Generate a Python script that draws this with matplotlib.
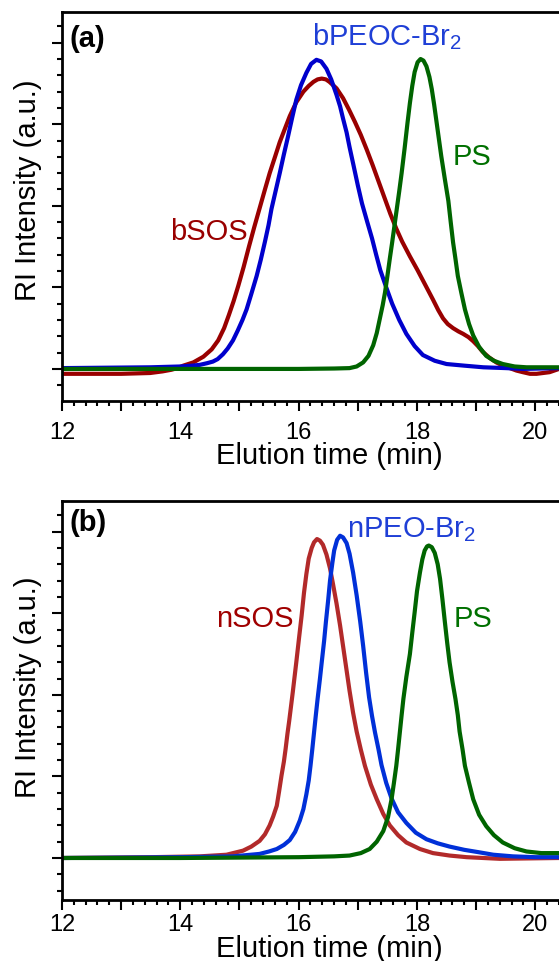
import matplotlib
matplotlib.use("Agg")
import matplotlib.pyplot as plt
from matplotlib.ticker import FixedLocator, MultipleLocator, FuncFormatter

plt.rcParams["font.family"] = ["Liberation Sans", "DejaVu Sans"]
plt.rcParams["mathtext.fontset"] = "custom"
plt.rcParams["mathtext.rm"] = "Liberation Sans"
plt.rcParams["mathtext.it"] = "Liberation Sans:italic"

# (a) bottlebrush series
a_peo_t = [12.0, 13.5, 14.0, 14.2, 14.33, 14.45, 14.55, 14.63, 14.72, 14.80, 14.89, 14.97,
           15.05, 15.12, 15.20, 15.29, 15.36, 15.43, 15.49, 15.54, 15.61, 15.68, 15.75, 15.82,
           15.89, 15.96, 16.04, 16.13, 16.21, 16.30, 16.38, 16.47, 16.55, 16.64, 16.70, 16.75,
           16.81, 16.86, 16.92, 17.00, 17.07, 17.16, 17.24, 17.31, 17.38, 17.48, 17.58, 17.70,
           17.82, 17.96, 18.10, 18.30, 18.50, 18.80, 19.12, 19.50, 19.79, 20.40]
a_peo_ri = [0.01, 0.02, 0.03, 0.04, 0.05, 0.07, 0.09, 0.12, 0.18, 0.25, 0.35, 0.47,
            0.60, 0.73, 0.92, 1.14, 1.34, 1.56, 1.76, 1.96, 2.18, 2.40, 2.63, 2.85,
            3.08, 3.30, 3.48, 3.63, 3.74, 3.79, 3.77, 3.68, 3.55, 3.36, 3.22, 3.07,
            2.90, 2.72, 2.52, 2.25, 2.03, 1.80, 1.60, 1.40, 1.21, 1.00, 0.80, 0.60,
            0.43, 0.28, 0.17, 0.10, 0.06, 0.04, 0.02, 0.01, 0.00, 0.01]

a_sos_t = [12.0, 13.0, 13.49, 13.7, 13.85, 13.95, 14.05, 14.22, 14.39, 14.53, 14.64, 14.74,
           14.82, 14.90, 14.98, 15.07, 15.16, 15.25, 15.34, 15.43, 15.51, 15.60, 15.68, 15.77,
           15.85, 15.96, 16.08, 16.17, 16.25, 16.32, 16.39, 16.46, 16.52, 16.58, 16.64, 16.75,
           16.85, 16.95, 17.05, 17.15, 17.25, 17.35, 17.45, 17.55, 17.65, 17.75, 17.88, 18.01,
           18.14, 18.27, 18.36, 18.44, 18.52, 18.61, 18.70, 18.78, 18.87, 18.95, 19.03, 19.11,
           19.22, 19.34, 19.45, 19.57, 19.68, 19.79, 19.91, 20.02, 20.13, 20.24, 20.40]
a_sos_ri = [-0.06, -0.06, -0.05, -0.03, -0.01, 0.01, 0.04, 0.08, 0.15, 0.24, 0.35, 0.50,
            0.66, 0.83, 1.02, 1.25, 1.50, 1.74, 1.97, 2.20, 2.40, 2.60, 2.78, 2.95,
            3.10, 3.27, 3.40, 3.47, 3.52, 3.55, 3.56, 3.55, 3.52, 3.48, 3.44, 3.32,
            3.18, 3.03, 2.87, 2.69, 2.50, 2.30, 2.10, 1.90, 1.72, 1.56, 1.38, 1.21,
            1.03, 0.85, 0.72, 0.62, 0.55, 0.50, 0.46, 0.43, 0.39, 0.34, 0.28, 0.21,
            0.14, 0.08, 0.04, 0.01, -0.02, -0.04, -0.06, -0.06, -0.05, -0.04, 0.00]

a_ps_t = [12.0, 16.0, 16.60, 16.86, 16.98, 17.09, 17.18, 17.26, 17.32, 17.37, 17.42, 17.46,
          17.50, 17.54, 17.58, 17.62, 17.66, 17.70, 17.74, 17.79, 17.84, 17.88, 17.92, 17.96,
          18.01, 18.06, 18.11, 18.16, 18.21, 18.25, 18.29, 18.33, 18.37, 18.41, 18.47, 18.53,
          18.57, 18.61, 18.65, 18.69, 18.75, 18.81, 18.88, 18.95, 19.05, 19.17, 19.30, 19.45,
          19.65, 19.85, 20.40]
a_ps_ri = [0.00, 0.00, 0.005, 0.01, 0.03, 0.08, 0.16, 0.29, 0.44, 0.61, 0.78, 0.94,
           1.14, 1.35, 1.55, 1.76, 1.97, 2.18, 2.40, 2.70, 3.02, 3.26, 3.47, 3.64,
           3.76, 3.80, 3.78, 3.71, 3.58, 3.43, 3.24, 3.03, 2.82, 2.61, 2.33, 2.06,
           1.80, 1.55, 1.35, 1.14, 0.93, 0.73, 0.55, 0.41, 0.27, 0.16, 0.10, 0.06,
           0.03, 0.02, 0.02]

# (b) linear series
b_sos_t = [12.0, 13.5, 14.33, 14.78, 15.06, 15.20, 15.34, 15.43, 15.51, 15.57, 15.63, 15.67,
           15.71, 15.75, 15.78, 15.81, 15.84, 15.90, 15.96, 16.01, 16.05, 16.09, 16.13, 16.17,
           16.22, 16.26, 16.31, 16.36, 16.41, 16.47, 16.53, 16.58, 16.64, 16.70, 16.75, 16.80,
           16.86, 16.92, 16.98, 17.05, 17.12, 17.22, 17.32, 17.43, 17.54, 17.68, 17.82, 18.05,
           18.27, 18.55, 18.84, 19.40, 20.40]
b_sos_ri = [0.00, 0.01, 0.02, 0.04, 0.09, 0.14, 0.21, 0.29, 0.40, 0.51, 0.64, 0.82,
            1.01, 1.18, 1.34, 1.52, 1.68, 2.03, 2.40, 2.72, 2.97, 3.25, 3.48, 3.67,
            3.80, 3.87, 3.91, 3.89, 3.84, 3.72, 3.55, 3.36, 3.12, 2.85, 2.60, 2.35,
            2.05, 1.78, 1.55, 1.33, 1.13, 0.90, 0.72, 0.54, 0.40, 0.28, 0.19, 0.11,
            0.06, 0.03, 0.01, -0.01, 0.00]

b_peo_t = [12.0, 14.05, 14.89, 15.34, 15.50, 15.63, 15.75, 15.85, 15.94, 16.02, 16.08, 16.13,
           16.17, 16.20, 16.23, 16.26, 16.29, 16.32, 16.36, 16.39, 16.43, 16.46, 16.50, 16.53,
           16.57, 16.60, 16.65, 16.70, 16.75, 16.81, 16.86, 16.92, 16.98, 17.04, 17.09, 17.14,
           17.19, 17.24, 17.29, 17.35, 17.40, 17.48, 17.57, 17.68, 17.82, 17.98, 18.16, 18.35,
           18.55, 18.80, 19.05, 19.29, 19.62, 20.00, 20.40]
b_peo_ri = [0.00, 0.01, 0.02, 0.05, 0.08, 0.11, 0.16, 0.22, 0.32, 0.46, 0.60, 0.78,
            0.95, 1.13, 1.33, 1.54, 1.75, 1.95, 2.20, 2.40, 2.66, 2.89, 3.17, 3.40,
            3.62, 3.77, 3.90, 3.95, 3.93, 3.86, 3.73, 3.50, 3.22, 2.90, 2.60, 2.27,
            1.97, 1.74, 1.54, 1.33, 1.14, 0.92, 0.73, 0.56, 0.43, 0.31, 0.23, 0.18,
            0.14, 0.10, 0.07, 0.04, 0.02, 0.01, 0.01]

b_ps_t = [12.0, 14.0, 16.0, 16.60, 16.86, 17.05, 17.20, 17.32, 17.43, 17.51, 17.57, 17.61,
          17.65, 17.68, 17.71, 17.74, 17.77, 17.82, 17.88, 17.92, 17.96, 18.00, 18.05, 18.09,
          18.13, 18.17, 18.20, 18.25, 18.30, 18.35, 18.39, 18.43, 18.47, 18.51, 18.55, 18.60,
          18.65, 18.69, 18.72, 18.77, 18.81, 18.88, 18.95, 19.05, 19.17, 19.30, 19.45, 19.65,
          19.85, 20.10, 20.40]
b_ps_ri = [0.00, 0.00, 0.01, 0.02, 0.03, 0.06, 0.11, 0.20, 0.33, 0.50, 0.72, 0.92,
           1.13, 1.33, 1.54, 1.75, 1.95, 2.22, 2.50, 2.76, 3.01, 3.27, 3.50, 3.66,
           3.77, 3.82, 3.83, 3.81, 3.74, 3.60, 3.42, 3.17, 2.90, 2.64, 2.40, 2.16,
           1.95, 1.75, 1.55, 1.33, 1.13, 0.92, 0.72, 0.53, 0.39, 0.28, 0.19, 0.12,
           0.08, 0.06, 0.06]

x_ticks = list(range(12, 21))
y_ticks = [0, 1, 2, 3, 4]

LW = 3.0
FS = 21

fig = plt.figure(figsize=(5.59, 9.62), dpi=100)
ax_a = fig.add_axes([0.1109, 0.5824, 0.8891, 0.4044])
ax_b = fig.add_axes([0.1109, 0.0634, 0.8891, 0.4151])


def style_axes(ax, ylim, tick_pad, xlabel_y, ylabel_y):
    ax.set_xlim(12, 20.4)
    ax.set_ylim(*ylim)
    for side in ["left", "bottom", "top"]:
        ax.spines[side].set_linewidth(2.0)
    ax.spines["right"].set_visible(False)

    ax.xaxis.set_major_locator(FixedLocator(x_ticks))
    ax.xaxis.set_major_formatter(FuncFormatter(lambda v, p: f"{int(v)}" if int(v) % 2 == 0 else ""))
    ax.xaxis.set_minor_locator(MultipleLocator(0.2))
    ax.yaxis.set_major_locator(FixedLocator(y_ticks))
    ax.yaxis.set_minor_locator(MultipleLocator(0.2))
    ax.set_yticklabels([])

    ax.tick_params(which="both", direction="out", top=False, right=False, width=1.5)
    ax.tick_params(which="major", length=7)
    ax.tick_params(which="minor", length=3.5)
    ax.tick_params(axis="x", which="major", labelsize=17, pad=tick_pad)

    # odd minutes get a mid-length tick and no label
    for tick in ax.xaxis.get_major_ticks():
        if int(round(tick.get_loc())) % 2 == 1:
            tick.tick1line.set_markersize(5)

    ax.set_xlabel("Elution time (min)", fontsize=FS)
    ax.xaxis.set_label_coords(0.537, xlabel_y)
    ax.set_ylabel("RI Intensity (a.u.)", fontsize=FS)
    ax.yaxis.set_label_coords(-0.04, ylabel_y)


# panel (a)
ax_a.plot(a_sos_t, a_sos_ri, color="#990000", lw=LW, solid_joinstyle="round")
ax_a.plot(a_peo_t, a_peo_ri, color="#0000cc", lw=LW, solid_joinstyle="round")
ax_a.plot(a_ps_t, a_ps_ri, color="#006400", lw=LW, solid_joinstyle="round")
style_axes(ax_a, (-0.39, 4.38), 7.5, -0.103, 0.544)
ax_a.text(12.135, 4.06, "(a)", fontsize=FS, fontweight="bold", ha="left", va="center")
ax_a.text(16.22, 3.98, "bPEOC-Br$_2$", fontsize=FS, color="#1f3fd6", ha="left", va="baseline")
ax_a.text(18.60, 2.51, "PS", fontsize=FS, color="#007000", ha="left", va="baseline")
ax_a.text(13.82, 1.59, "bSOS", fontsize=FS, color="#990000", ha="left", va="baseline")

# panel (b)
ax_b.plot(b_sos_t, b_sos_ri, color="#b22a2a", lw=LW, solid_joinstyle="round")
ax_b.plot(b_peo_t, b_peo_ri, color="#0030d8", lw=LW, solid_joinstyle="round")
ax_b.plot(b_ps_t, b_ps_ri, color="#006400", lw=LW, solid_joinstyle="round")
style_axes(ax_b, (-0.515, 4.38), 2.5, -0.086, 0.535)
ax_b.text(12.135, 4.12, "(b)", fontsize=FS, fontweight="bold", ha="left", va="center")
ax_b.text(16.81, 3.94, "nPEO-Br$_2$", fontsize=FS, color="#1f3fd6", ha="left", va="baseline")
ax_b.text(18.62, 2.84, "PS", fontsize=FS, color="#007000", ha="left", va="baseline")
ax_b.text(14.61, 2.84, "nSOS", fontsize=FS, color="#a00000", ha="left", va="baseline")

fig.savefig("out.png", dpi=100)
